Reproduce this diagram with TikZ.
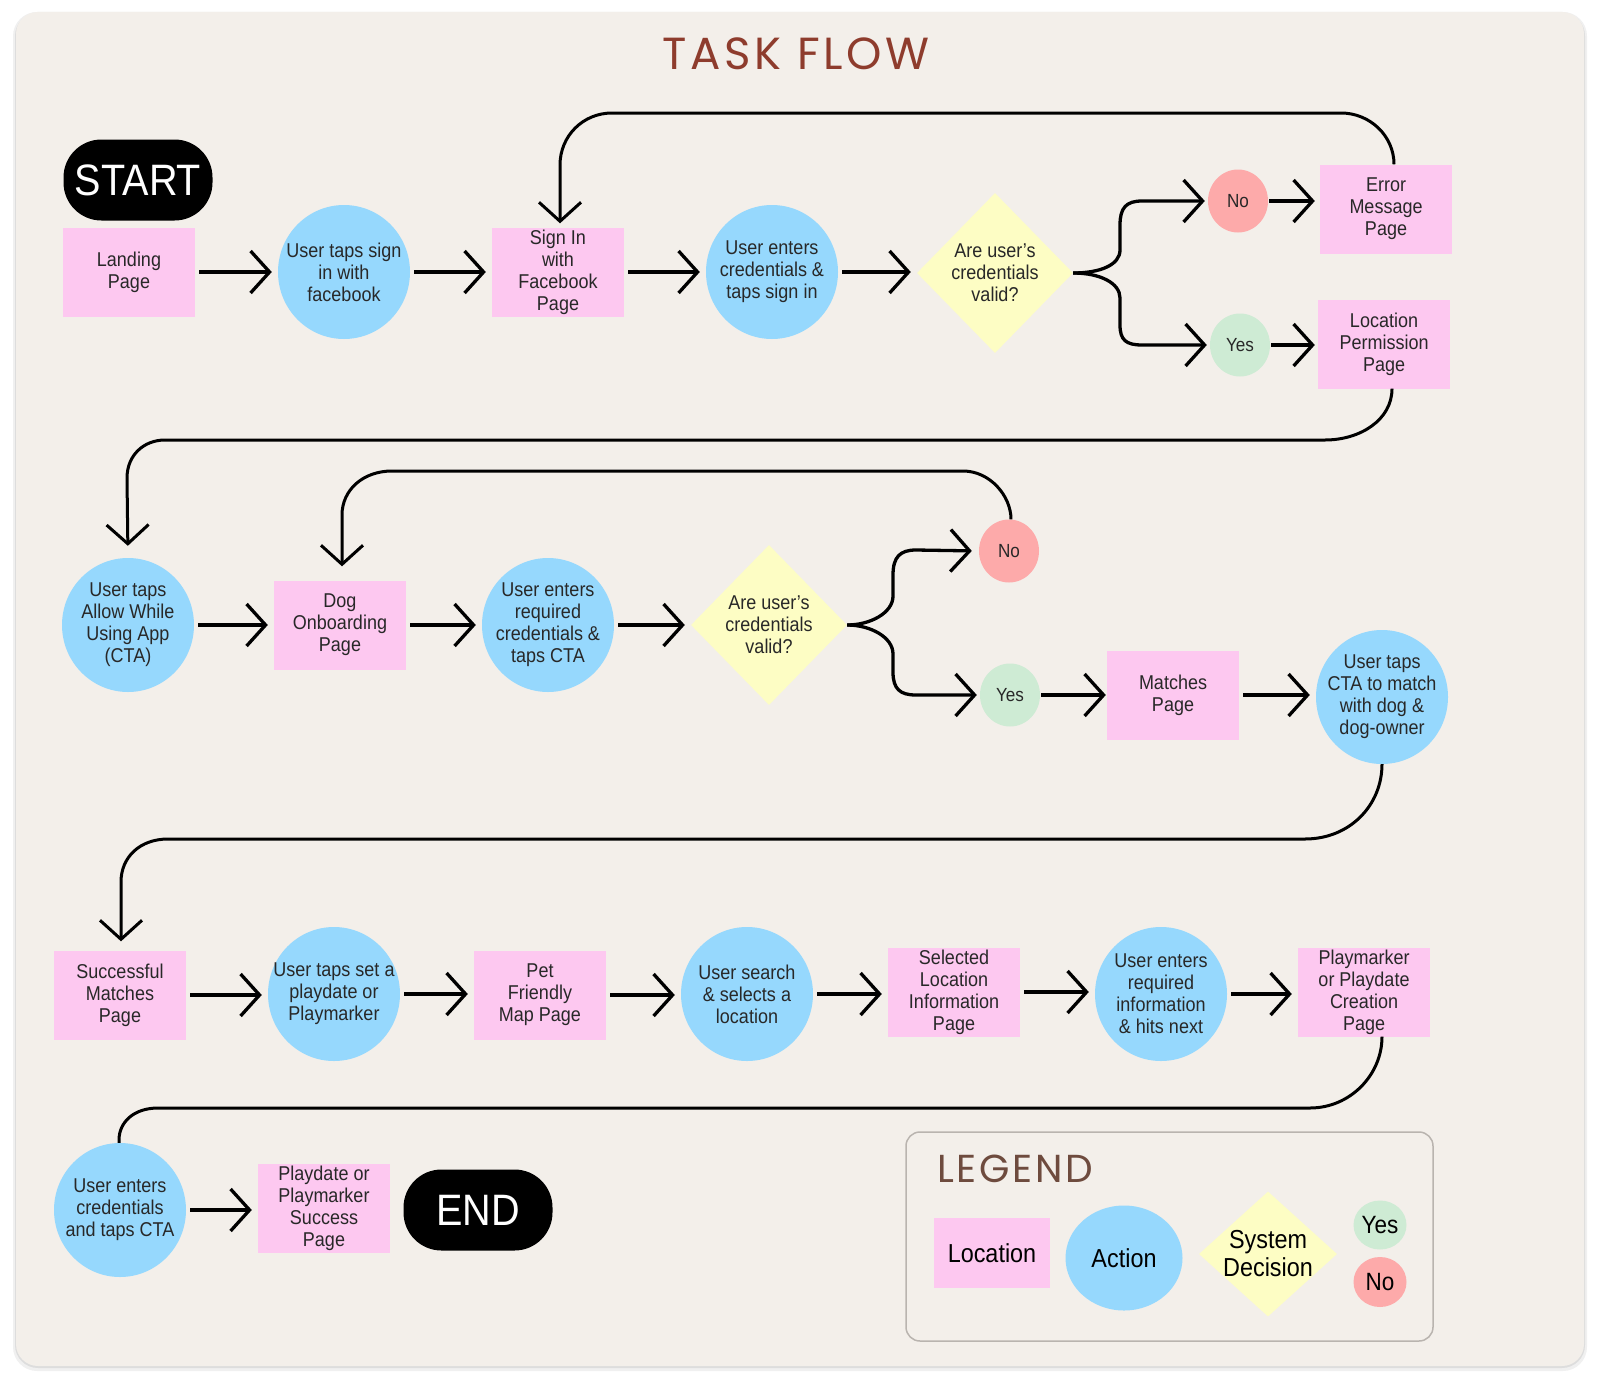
\documentclass[tikz,border=0pt]{standalone}
\usepackage{fontspec}
\setmainfont{Liberation Sans}[FakeStretch=0.9]
\newfontfamily\titlefont{Poppins}[LetterSpace=8]
\newfontfamily\legfont{Poppins}[LetterSpace=7]
\usetikzlibrary{shapes.geometric,arrows.meta,calc}
\definecolor{cardbg}{RGB}{243,239,234}
\definecolor{pinkc}{RGB}{253,200,240}
\definecolor{bluec}{RGB}{150,216,253}
\definecolor{yellowc}{RGB}{253,253,196}
\definecolor{noc}{RGB}{253,170,170}
\definecolor{yesc}{RGB}{206,235,212}
\definecolor{titlec}{RGB}{142,60,45}
\definecolor{legc}{RGB}{110,75,62}
\definecolor{txt}{RGB}{40,40,40}
\definecolor{legline}{RGB}{185,180,175}
\begin{document}
\begin{tikzpicture}[x=1pt,y=-1pt,
  nf/.style={font=\fontsize{20}{22}\selectfont, text=txt, align=center},
  loc/.style={nf, rectangle, fill=pinkc, minimum width=132pt, minimum height=89pt, inner sep=0pt},
  act/.style={ellipse, fill=bluec, minimum width=132pt, minimum height=134pt, inner sep=0pt, label={[nf]center:#1}},
  dec/.style={diamond, fill=yellowc, minimum width=156pt, minimum height=160pt, inner sep=0pt, label={[nf]center:#1}},
  yesn/.style={ellipse, fill=yesc, minimum width=60pt, minimum height=63pt, inner sep=0pt, font=\fontsize{19}{21}\selectfont, text=txt},
  non/.style={ellipse, fill=noc, minimum width=60pt, minimum height=63pt, inner sep=0pt, font=\fontsize{19}{21}\selectfont, text=txt},
  term/.style={rectangle, rounded corners=38pt, fill=black, minimum width=149pt, minimum height=81pt, inner sep=0pt, text=white, font=\fontsize{44}{46}\selectfont},
  conn/.style={line width=3.3pt, -{Straight Barb[length=19pt,width=42pt]}, shorten <=4pt, shorten >=6pt},
  loopc/.style={line width=3pt, -{Straight Barb[length=19pt,width=42pt]}},
  loopn/.style={line width=3pt},
  legsz/.style={font=\fontsize{26}{28}\selectfont, text=black, align=center}
]
\useasboundingbox (0,0) rectangle (1600,1389);
\fill[white] (0,0) rectangle (1600,1389);
% card with shadow
\fill[black, opacity=0.06, rounded corners=24pt] (13,12) rectangle (1587,1371);
\fill[black, opacity=0.08, rounded corners=23pt] (15,13) rectangle (1585,1368);
\fill[cardbg, rounded corners=22pt] (16,12) rectangle (1584,1366);

% title
\node[anchor=base, text=titlec, font=\titlefont\fontsize{45}{48}\selectfont] (title) at (796,70) {TASK FLOW};

% ---------- Row 1 ----------
\node[term] (start) at (138,180) {START};
\node[loc] (landing) at (129,272) {Landing\\Page};
\node[act={User taps sign\\in with\\facebook}] (c1) at (344,272) {};
\node[loc] (signin) at (558,272) {Sign In\\with\\Facebook\\Page};
\node[act={User enters\\credentials \&\\taps sign in}] (c2) at (772,272) {};
\node[dec={Are user’s\\credentials\\valid?}] (d1) at (995,273) {};
\node[non] (no1) at (1238,201) {No};
\node[yesn] (yes1) at (1240,345) {Yes};
\node[loc] (error) at (1386,209) {Error\\Message\\Page};
\node[loc] (locperm) at (1384,344) {Location\\Permission\\Page};

\draw[conn] (landing.east) -- (c1.west |- landing.east);
\draw[conn] (c1.east) -- (signin.west |- c1.east);
\draw[conn] (signin.east) -- (c2.west |- signin.east);
\draw[conn] (c2.east) -- (d1.west |- c2.east);
\draw[conn, shorten <=0pt, shorten >=3pt] (d1.east) .. controls (1100,273) and (1120,265) .. (1120,250) -- (1120,225) .. controls (1120,208) and (1126,201) .. (1142,201) -- (no1.west);
\draw[conn, shorten <=0pt, shorten >=3pt] (d1.east) .. controls (1100,273) and (1120,283) .. (1120,298) -- (1120,325) .. controls (1120,340) and (1126,345) .. (1142,345) -- (yes1.west);
\draw[conn, shorten <=1pt, shorten >=5pt] (no1.east) -- (error.west |- no1.east);
\draw[conn, shorten <=1pt, shorten >=3pt] (yes1.east) -- (locperm.west |- yes1.east);

% loop: error -> sign in
\draw[loopc, shorten >=4pt] ($(error.north)+(8,0)$) .. controls (1394,136) and (1370,113) .. (1341,113) -- (612,113) .. controls (583,113) and (560,136) .. (560,165) -- ($(signin.north)+(2,0)$);
% loop: location permission -> allow
\node[act={User taps\\Allow While\\Using App\\(CTA)}] (allow) at (128,625) {};
\draw[loopc, shorten >=12pt] ($(locperm.south)+(8,0)$) .. controls (1392,420) and (1360,440) .. (1325,440) -- (165,440) .. controls (144,440) and (127,455) .. (127,478) -- (allow.north);

% ---------- Row 2 ----------
\node[loc] (dog) at (340,625) {Dog\\Onboarding\\Page};
\node[act={User enters\\required\\credentials \&\\taps CTA}] (c3) at (548,625) {};
\node[dec={Are user’s\\credentials\\valid?}] (d2) at (769,625) {};
\node[non] (no2) at (1009,551) {No};
\node[yesn] (yes2) at (1010,695) {Yes};
\node[loc] (matches) at (1173,695) {Matches\\Page};
\node[act={User taps\\CTA to match\\with dog \&\\dog-owner}] (cta) at (1382,697) {};

\draw[conn] (allow.east) -- (dog.west |- allow.east);
\draw[conn] (dog.east) -- (c3.west |- dog.east);
\draw[conn] (c3.east) -- (d2.west |- c3.east);
\draw[conn, shorten <=0pt, shorten >=7pt] (d2.east) .. controls (870,625) and (893,613) .. (893,596) -- (893,575) .. controls (893,557) and (900,550) .. (916,550) -- (no2.west);
\draw[conn, shorten <=0pt, shorten >=3pt] (d2.east) .. controls (870,625) and (893,637) .. (893,654) -- (893,672) .. controls (893,689) and (900,695) .. (916,695) -- (yes2.west);
\draw[conn, shorten <=1pt, shorten >=1pt] (yes2.east) -- (matches.west |- yes2.east);
\draw[conn] (matches.east) -- (cta.west |- matches.east);
% loop: no -> dog onboarding
\draw[loopc, shorten >=14pt] ($(no2.north)+(2,0)$) .. controls (1011,496) and (990,471) .. (963,471) -- (392,471) .. controls (363,471) and (342,490) .. (342,515) -- ($(dog.north)+(2,0)$);

% ---------- Row 3 ----------
\node[loc] (succ) at (120,995) {Successful\\Matches\\Page};
\node[act={User taps set a\\playdate or\\Playmarker}] (c4) at (334,994) {};
\node[loc] (pet) at (540,995) {Pet\\Friendly\\Map Page};
\node[act={User search\\\& selects a\\location}] (c5) at (747,994) {};
\node[loc] (sel) at (954,992) {Selected\\Location\\Information\\Page};
\node[act={User enters\\required\\information\\\& hits next}] (c6) at (1161,994) {};
\node[loc] (playm) at (1364,992) {Playmarker\\or Playdate\\Creation\\Page};

% loop: cta -> successful
\draw[loopc, shorten >=9pt] (cta.south) .. controls (1382,805) and (1350,839) .. (1305,839) -- (168,839) .. controls (140,839) and (121,857) .. (121,882) -- ($(succ.north)+(1,0)$);

\draw[conn] (succ.east) -- (c4.west |- succ.east);
\draw[conn] (c4.east) -- (pet.west |- c4.east);
\draw[conn] (pet.east) -- (c5.west |- pet.east);
\draw[conn] (c5.east) -- (sel.west |- c5.east);
\draw[conn] (sel.east) -- (c6.west |- sel.east);
\draw[conn] (c6.east) -- (playm.west |- c6.east);

% ---------- Row 4 ----------
\node[act={User enters\\credentials\\and taps CTA}] (c7) at (120,1210) {};
\node[loc] (succ2) at (324,1208) {Playdate or\\Playmarker\\Success\\Page};
\node[term] (end) at (478,1210) {END};
\draw[loopn] ($(playm.south)+(18,0)$) .. controls (1382,1075) and (1350,1108) .. (1310,1108) -- (158,1108) .. controls (134,1108) and (119,1122) .. (119,1140) -- ($(c7.north)+(-1,0)$);
\draw[conn] (c7.east) -- (succ2.west |- c7.east);

% ---------- Legend ----------
\draw[legline, line width=1.5pt, rounded corners=14pt] (906,1132) rectangle (1433,1341);
\node[anchor=base west, text=legc, font=\legfont\fontsize{39}{41}\selectfont, inner sep=0pt] (legtitle) at (937,1182) {LEGEND};
\node[rectangle, fill=pinkc, minimum width=116pt, minimum height=70pt, inner sep=0pt, legsz] (lloc) at (992,1253) {Location};
\node[ellipse, fill=bluec, minimum width=117pt, minimum height=105pt, inner sep=0pt, label={[legsz]center:Action}] (lact) at (1124,1258) {};
\node[diamond, fill=yellowc, minimum width=138pt, minimum height=125pt, inner sep=0pt, label={[legsz]center:System\\Decision}] (ldec) at (1268,1254) {};
\node[ellipse, fill=yesc, minimum width=53pt, minimum height=49pt, inner sep=0pt, font=\fontsize{25}{27}\selectfont] (lyes) at (1380,1225) {Yes};
\node[ellipse, fill=noc, minimum width=53pt, minimum height=50pt, inner sep=0pt, font=\fontsize{25}{27}\selectfont] (lno) at (1380,1282) {No};
\end{tikzpicture}
\end{document}
